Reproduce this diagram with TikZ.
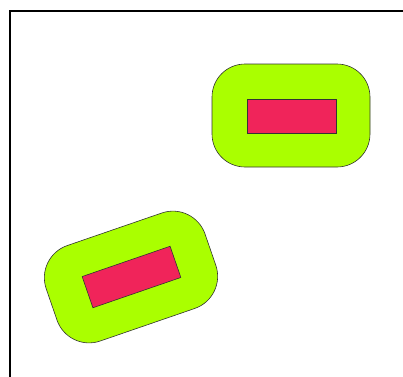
\documentclass[tikz,border=0pt]{standalone}
\definecolor{limeg}{HTML}{AAFF00}
\definecolor{pinkr}{HTML}{F0245A}
\begin{document}
\begin{tikzpicture}[x=1pt,y=-1pt,
  outerbox/.style={draw=black!80,line width=0.6pt,fill=limeg,rectangle,inner sep=0pt},
  innerbox/.style={draw=black!80,line width=0.6pt,fill=pinkr,rectangle,inner sep=0pt}]
\clip (0,0) rectangle (403,376);
\useasboundingbox (0,0) rectangle (403,376);
\draw[line width=2pt] (10,420) -- (10,11) -- (420,11);
\node[outerbox,minimum width=158pt,minimum height=103pt,rounded corners=33pt] (o1) at (291,115.5) {};
\node[innerbox,minimum width=89pt,minimum height=34pt] (i1) at (291.5,116) {};
\node[outerbox,minimum width=168pt,minimum height=101pt,rounded corners=34pt,rotate=19] (o2) at (131,277) {};
\node[innerbox,minimum width=93pt,minimum height=33pt,rotate=19] (i2) at (131.5,277) {};
\end{tikzpicture}
\end{document}
